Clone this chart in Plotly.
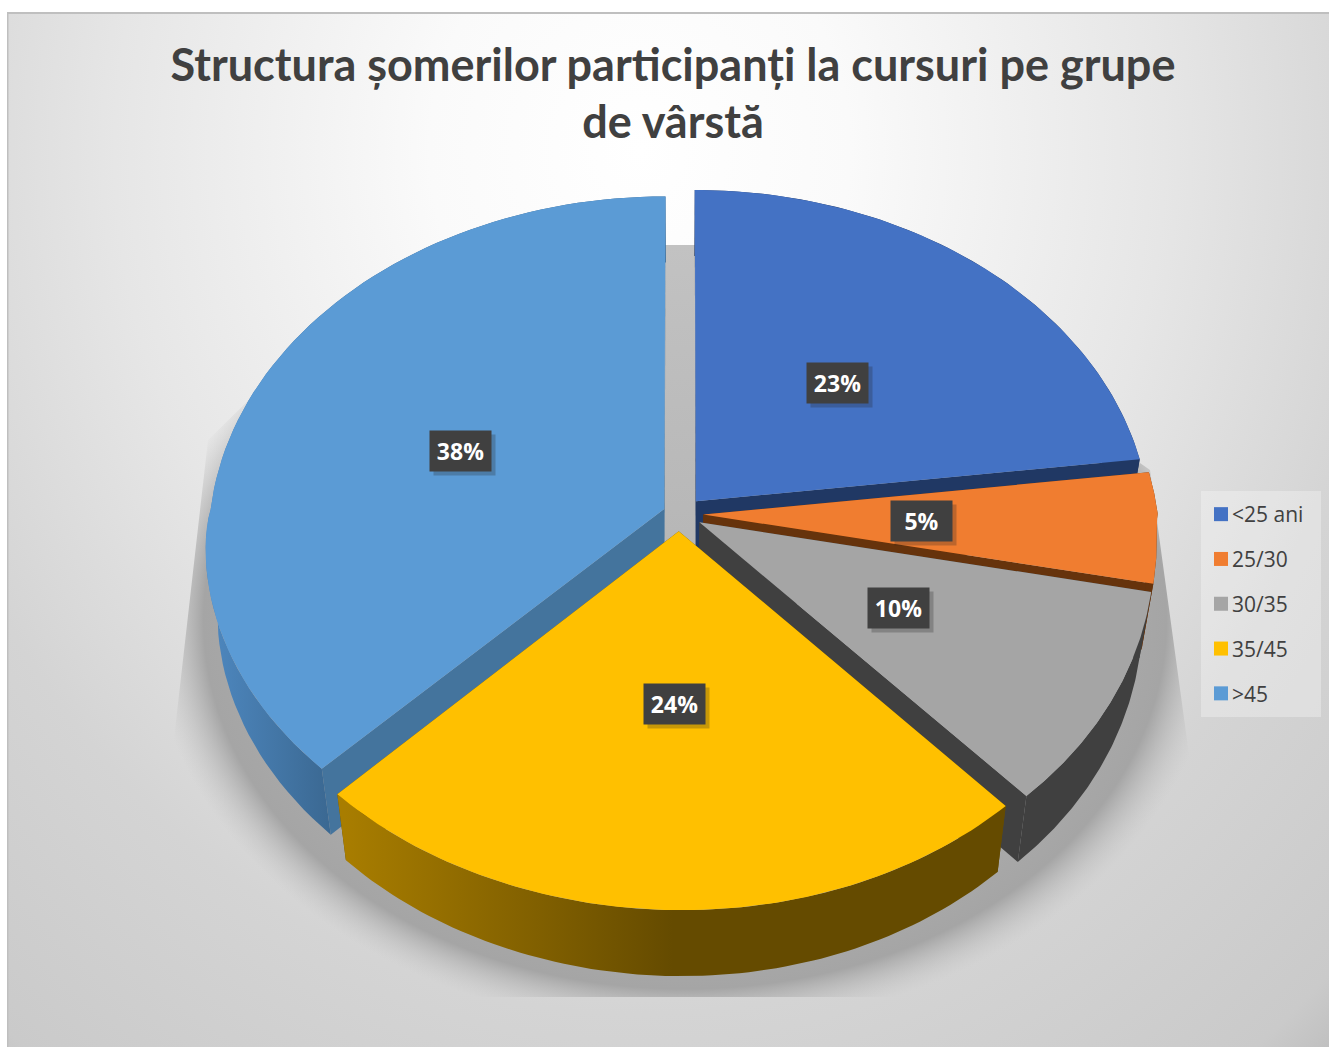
import numpy as np
import plotly.graph_objects as go

# ---- data ----
categories = ["<25 ani", "25/30", "30/35", "35/45", ">45"]
values = [23, 5, 10, 24, 38]
title_lines = ["Structura șomerilor participanți la cursuri pe grupe", "de vârstă"]

# ---- styles ----
top_colors = ["#4472C4", "#F07D30", "#A5A5A5", "#FFC000", "#5B9BD5"]
radial_wall_colors = ["#203864", "#66330C", "#404040", "#654B00", "#44749D"]
outer_wall_colors = ["#203864", "#66330C", "#404040", "#654B00", "#3E6E9C"]
slice_pull = [0.05, 0.05, 0.05, 0.05, 0.04]
paint_order = [0, 1, 2, 4, 3]
label_anchor_px = [(837, 383), (921, 521), (898, 608), (674, 704), (460, 451)]

# ---- projection of the tilted pie plane ----
CX, CY, RX, RY, TILT = 681.0, 514.0, 454.0, 341.5, 0.09
SKEW_X, SKEW_Y = -10.0, 9.0
DEPTH, TAPER = 66.0, 0.975


def project(u, v):
    w = 1 - TILT * v
    front = np.sqrt(np.maximum(v, 0))
    return CX + (RX * u + SKEW_X * front) / w, CY + (RY * v + SKEW_Y * u * front) / w


def drop(x, y):
    return CX + (x - CX) * TAPER, y + DEPTH


fig = go.Figure()


def poly(x, y, color=None, gradient=None):
    kw = dict(fillgradient=gradient) if gradient else dict(fillcolor=color)
    fig.add_trace(go.Scatter(x=list(x), y=list(y), mode="lines", fill="toself",
                             line=dict(width=0), showlegend=False, hoverinfo="skip", **kw))


# background
BG_X, BG_Y, BG_RX, BG_RY = 640, 150, 1050, 1200
poly([BG_X - BG_RX, BG_X + BG_RX, BG_X + BG_RX, BG_X - BG_RX, BG_X - BG_RX],
     [BG_Y - BG_RY, BG_Y - BG_RY, BG_Y + BG_RY, BG_Y + BG_RY, BG_Y - BG_RY],
     gradient=dict(type="radial", colorscale=[[0, "#ffffff"], [0.2, "#fafafa"], [0.5, "#e6e6e6"],
                                              [0.72, "#d4d4d4"], [0.95, "#cacaca"], [1, "#bfbfbf"]]))

# floor shadow: clipped plate, with zero-area spikes to set the gradient ellipse
SH_X, SH_Y, SH_RX, SH_RY = 682, 620, 520, 410
plate_x = [400, 900, 1050, 1150, 1187, 1220, SH_X + SH_RX, 1220, 1200, SH_X, SH_X, SH_X, 150, 150, SH_X - SH_RX, 150, 175, 208, 300, SH_X, SH_X, SH_X, 400]
plate_y = [245, 245, 400, 470, 740, 997, SH_Y + 300, 997, 997, 997, SH_Y + SH_RY, 997, 997, 997, SH_Y + 300, 997, 730, 440, 350, 300, SH_Y - SH_RY, 300, 300]
poly(plate_x, plate_y,
     gradient=dict(type="radial", colorscale=[[0, "rgba(178,178,178,1)"], [0.6, "rgba(178,178,178,1)"],
                                              [0.9, "rgba(165,165,165,1)"], [1, "rgba(195,195,195,0)"]]))
# part of the shadow seen through the gap between the slices
poly([640, 720, 720, 640, 640], [245, 245, 560, 560, 245],
     gradient=dict(type="vertical", start=245, stop=560, colorscale=[[0, "#c2c2c2"], [1, "#b6b6b6"]]))

# pie slices, derived from the values
total = sum(values)
edges = np.cumsum([0] + values) / total * 2 * np.pi
for i in paint_order:
    a0, a1 = edges[i], edges[i + 1]
    mid = (a0 + a1) / 2
    du, dv = slice_pull[i] * np.sin(mid), -slice_pull[i] * np.cos(mid)
    th = np.linspace(a0, a1, 80)
    ax, ay = project(np.sin(th) + du, -np.cos(th) + dv)
    px, py = project(np.array([du]), np.array([dv]))
    bx, by = drop(ax, ay)
    qx, qy = drop(px, py)
    # radial faces
    for end in (0, -1):
        poly([px[0], ax[end], bx[end], qx[0], px[0]], [py[0], ay[end], by[end], qy[0], py[0]],
             color=radial_wall_colors[i])
    # outer wall
    wx = np.r_[ax, bx[::-1], ax[0]]
    wy = np.r_[ay, by[::-1], ay[0]]
    if i == 3:
        poly(wx, wy, gradient=dict(type="horizontal", start=345, stop=1000,
                                   colorscale=[[0, "#A87D00"], [0.5, "#654B00"], [1, "#654B00"]]))
    elif i == 4:
        poly(wx, wy, gradient=dict(type="horizontal", start=207, stop=335,
                                   colorscale=[[0, "#4E88C0"], [1, "#3A6790"]]))
    else:
        poly(wx, wy, color=outer_wall_colors[i])
    # top face
    poly(np.r_[px, ax, px], np.r_[py, ay, py], color=top_colors[i])

# legend entries
for cat, col in zip(categories, top_colors):
    fig.add_trace(go.Scatter(x=[None], y=[None], mode="markers", name=cat, legendgroup=cat,
                             marker=dict(symbol="square", size=14, color=col)))

X0, X1, Y0, Y1 = 7, 1329, 12, 1047
shapes = [
    dict(type="rect", xref="x", yref="y", x0=1201, x1=1321, y0=491, y1=717,
         fillcolor="rgba(255,255,255,0.3)", line=dict(width=0), layer="above"),
    dict(type="line", xref="x", yref="y", x0=7.75, x1=7.75, y0=13, y1=1047, line=dict(color="#bfbfbf", width=1.5), layer="above"),
    dict(type="line", xref="x", yref="y", x0=7, x1=1329, y0=13, y1=13, line=dict(color="#bfbfbf", width=2), layer="above"),
]

annotations = []
for v, (lx, ly) in zip(values, label_anchor_px):
    annotations.append(dict(x=lx + 4, y=ly + 4, xref="x", yref="y", text=" ", showarrow=False,
                            width=59, height=38, bgcolor="rgba(30,30,30,0.25)", font=dict(size=10)))
    annotations.append(dict(x=lx, y=ly, xref="x", yref="y", text=f"<b>{v}%</b>", showarrow=False,
                            width=59, height=38, bgcolor="#404040",
                            font=dict(family="Open Sans", size=23, color="#ffffff")))

fig.update_layout(
    width=1329, height=1047,
    margin=dict(l=X0, r=0, t=Y0, b=0),
    paper_bgcolor="#ffffff", plot_bgcolor="#ffffff",
    xaxis=dict(range=[X0, X1], visible=False, fixedrange=True),
    yaxis=dict(range=[Y1, Y0], visible=False, fixedrange=True),
    font=dict(family="Open Sans", color="#404040"),
    title=dict(
        text="<br>".join(f'<span style="font-size:45px">{t}</span>' for t in title_lines),
        font=dict(family="Lato", size=44, color="#404040", weight="bold"),
        x=669.5 / 1329, xanchor="center", xref="paper", y=1 - 81 / 1047, yanchor="top", yref="container",
    ),
    legend=dict(x=(1192 - X0) / (X1 - X0), xanchor="left", y=(Y1 - 494) / (Y1 - Y0), yanchor="top",
                bgcolor="rgba(0,0,0,0)", tracegroupgap=14.5, font=dict(family="Open Sans", size=21, color="#404040")),
    shapes=shapes, annotations=annotations,
)

# Excel keeps the legend swatch closer to its text than Plotly does
fig.write_html("out.html", config=dict(displayModeBar=False),
               post_script="document.body.style.margin='0';document.body.style.overflow='hidden';"
                           "document.querySelectorAll('.legendsymbols').forEach(function(g){g.setAttribute('transform','translate(9,0)');});")
